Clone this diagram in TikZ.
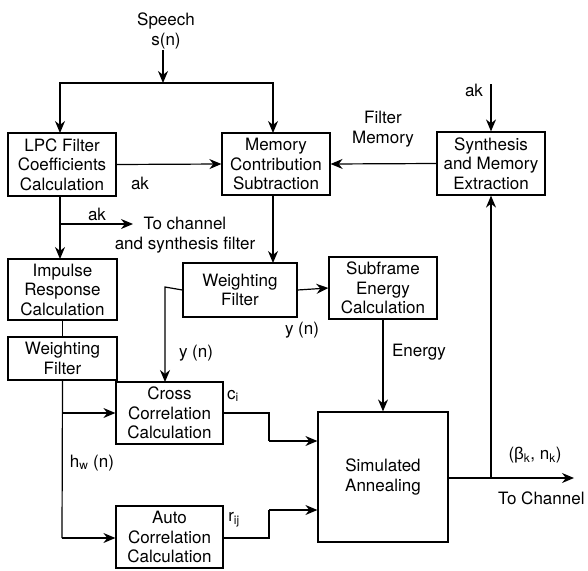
\documentclass[tikz,border=0pt]{standalone}
\usepackage{fontspec}
\setmainfont{TeX Gyre Heros}
\newfontfamily\grk{Liberation Sans}
\usetikzlibrary{arrows.meta}
\begin{document}
\begin{tikzpicture}[x=1pt,y=-1pt,
  every node/.style={font=\fontsize{17}{19.5}\selectfont, inner sep=0pt, align=center},
  box/.style={draw, line width=1.2pt},
  conn/.style={line width=1.2pt},
  arr/.style={conn, -{Stealth[length=12pt,width=10pt]}},
  lbl/.style={}]
\useasboundingbox (0,0) rectangle (588,570);
% boxes
\node[box, minimum width=108pt, minimum height=63pt] (lpc) at (62,164.5) {LPC Filter\\Coefficients\\Calculation};
\node[box, minimum width=108pt, minimum height=62pt] (mem) at (276,164) {Memory\\Contribution\\Subtraction};
\node[box, minimum width=108pt, minimum height=63pt] (syn) at (491,163.5) {Synthesis\\and Memory\\Extraction};
\node[box, minimum width=109pt, minimum height=61pt] (imp) at (62.5,289.5) {Impulse\\Response\\Calculation};
\node[box, minimum width=109pt, minimum height=43pt] (wf1) at (62.5,358.5) {Weighting\\Filter};
\node[box, minimum width=114pt, minimum height=54pt] (wf2) at (240,290) {Weighting\\Filter};
\node[box, minimum width=108pt, minimum height=62pt] (sub) at (383,288) {Subframe\\Energy\\Calculation};
\node[box, minimum width=107pt, minimum height=62pt] (cross) at (169.5,413) {Cross\\Correlation\\Calculation};
\node[box, minimum width=107pt, minimum height=62pt] (auto) at (169.5,537) {Auto\\Correlation\\Calculation};
\node[box, minimum width=130pt, minimum height=130pt] (sim) at (383,477) {Simulated\\Annealing};
% labels
\node[lbl] (speech) at (166,31) {Speech\\s(n)};
\node[lbl] (lak) at (140,183) {ak};
\node[lbl] (fm) at (383,129) {Filter\\Memory};
\node[lbl] (sak) at (474,90) {ak};
\node[lbl] (bak) at (97,214) {ak};
\node[lbl] (tochan) at (185,235) {To channel\\and synthesis filter};
\node[lbl] (yn1) at (302,330) {y (n)};
\node[lbl] (yn2) at (196,353) {y (n)};
\node[lbl] (energy) at (419,352) {Energy};
\node[lbl] (ci) at (233,396) {c$_{\mathrm{i}}$};
\node[lbl] (rij) at (234,520) {r$_{\mathrm{ij}}$};
\node[lbl] (hw) at (92,463) {h$_{\mathrm{w}}$ (n)};
\node[lbl] (beta) at (535,455) {({\grk β}$_{\mathrm{k}}$, n$_{\mathrm{k}}$)};
\node[lbl, anchor=west] (tc) at (498,498) {To Channel};
% coordinates
\coordinate (top) at (163,83);
\coordinate (akin) at (491,84);
\coordinate (br1) at (60,224);
\coordinate (br1e) at (133,224);
\coordinate (yl) at (165,287);
\coordinate (hb) at (62,413);
\coordinate (hc) at (62,538);
\coordinate (c1) at (269,413);
\coordinate (c2) at (269,441);
\coordinate (a1) at (269,538);
\coordinate (a2) at (269,510);
\coordinate (out) at (574,478);
\coordinate (ob) at (491,478);
% connectors
\draw[arr] (163,50) -- (top);
\draw[arr] (top) -| (60,133);
\draw[arr] (top) -| (273,133);
\draw[arr] (lpc.east) -- (mem.west);
\draw[arr] (syn.west) -- (mem.east);
\draw[arr] (akin) -- (syn.north);
\draw[arr] (60,196) -- (60,259);
\draw[arr] (br1) -- (br1e);
\draw[conn] (imp.south) -- (wf1.north);
\draw[arr] (273,195) -- (273,263);
\draw[arr] (wf2.east) -- (sub.west);
\draw[arr] (wf2.west) -- (yl) -- (165,382);
\draw[arr] (sub.south) -- (sim.north);
\draw[conn] (wf1.south) -- (hc);
\draw[arr] (hb) -- (cross.west);
\draw[arr] (hc) -- (auto.west |- hc);
\draw[conn] (cross.east) -- (c1) -- (c2);
\draw[arr] (c2) -- (sim.west |- c2);
\draw[conn] (auto.east |- a1) -- (a1) -- (a2);
\draw[arr] (a2) -- (sim.west |- a2);
\draw[arr] (sim.east |- out) -- (out);
\draw[arr] (ob) -- (syn.south);
\end{tikzpicture}
\end{document}
